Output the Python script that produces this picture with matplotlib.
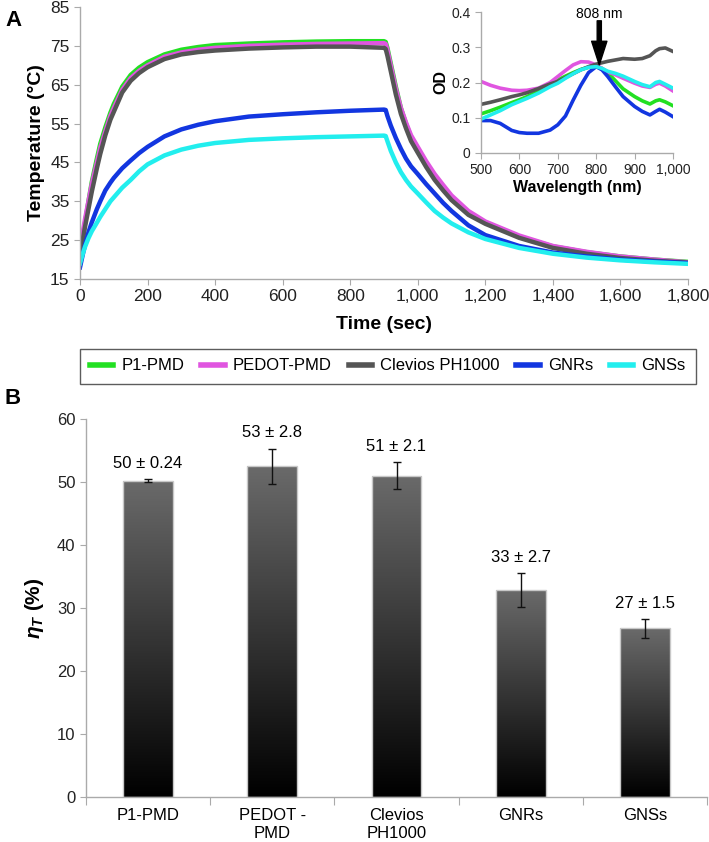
import numpy as np
import matplotlib
matplotlib.use("Agg")
import matplotlib.pyplot as plt
from matplotlib.colors import LinearSegmentedColormap
from matplotlib.lines import Line2D

plt.rcParams['font.family'] = ['Liberation Sans', 'DejaVu Sans']
plt.rcParams['mathtext.fontset'] = 'custom'
plt.rcParams['mathtext.it'] = 'Liberation Sans:italic:bold'
plt.rcParams['mathtext.rm'] = 'Liberation Sans:bold'

# ---------------- data ----------------
names = ['P1-PMD', 'PEDOT-PMD', 'Clevios PH1000', 'GNRs', 'GNSs']
colors = ['#22e022', '#e055e0', '#555555', '#1236e0', '#22eeee']

time_s = [0, 5, 10, 15, 25, 35, 50, 60, 75, 90, 100, 125, 150, 175, 200, 250, 300, 350, 400,
          500, 600, 700, 800, 900, 905, 910, 920, 935, 950, 965, 980, 1000, 1025, 1050, 1075,
          1100, 1150, 1200, 1300, 1400, 1500, 1600, 1700, 1800]
temp_p1 = [21, 23.5, 26.5, 29.5, 35, 40, 46, 49.8, 54, 57.8, 60, 64.5, 67.5, 69.4, 70.8, 72.8, 74.0, 74.7, 75.2,
           75.6, 75.9, 76.1, 76.2, 76.2, 76.0, 74.5, 70.5, 64.5, 59.0, 55.0, 51.5, 48.0, 44.3, 41.0, 38.3,
           35.8, 32.0, 29.5, 25.9, 23.4, 21.9, 20.8, 20.0, 19.4]
temp_pedot = [24, 25.5, 28, 30.5, 35, 39.5, 45, 48.8, 53, 57, 59, 63.7, 66.7, 68.6, 70.0, 72.2, 73.3, 74.0, 74.5,
              75.0, 75.3, 75.5, 75.6, 75.7, 75.5, 74.0, 70.0, 64.0, 59.0, 55.3, 52.0, 49.0, 45.3, 42.0, 39.2,
              36.5, 32.5, 29.8, 26.2, 23.5, 22.0, 20.8, 20.0, 19.3]
temp_clevios = [22, 23.5, 26, 28.5, 33, 37.5, 43.5, 47.2, 52, 56, 58, 63, 66, 68, 69.5, 71.6, 72.8, 73.4, 73.8,
                74.3, 74.6, 74.8, 74.8, 74.5, 74.2, 72.5, 68.5, 62.5, 57.5, 53.8, 50.5, 47.5, 43.8, 40.5, 37.8,
                35.3, 31.5, 29.2, 25.6, 23.0, 21.5, 20.4, 19.7, 19.2]
temp_gnrs = [18, 20, 22, 23.8, 27, 29.6, 33, 35, 37.8, 39.8, 41, 43.5, 45.5, 47.4, 49, 51.7, 53.5, 54.7, 55.6,
             56.8, 57.4, 57.9, 58.3, 58.6, 58.5, 57.0, 54.5, 51.3, 48.5, 46.0, 44.0, 42.0, 39.4, 37.0, 34.6,
             32.5, 28.8, 26.3, 23.5, 21.8, 20.8, 20.0, 19.5, 19.1]
temp_gnss = [19, 20.5, 22, 23.3, 25.5, 27.3, 29.5, 31, 33, 35, 36, 38.5, 40.5, 42.7, 44.5, 46.8, 48.3, 49.3, 50.0,
             50.8, 51.2, 51.5, 51.7, 51.9, 51.8, 50.5, 48.0, 45.0, 42.5, 40.5, 38.8, 37.0, 34.7, 32.5, 30.8,
             29.3, 27.0, 25.3, 23.0, 21.5, 20.5, 19.8, 19.3, 18.9]
temps = [temp_p1, temp_pedot, temp_clevios, temp_gnrs, temp_gnss]

wl_nm = [500, 525, 550, 580, 600, 620, 650, 680, 700, 720, 740, 760, 780, 800, 815, 830, 850, 870,
         900, 920, 940, 955, 965, 980, 1000]
od_p1 = [0.111, 0.120, 0.130, 0.143, 0.151, 0.160, 0.176, 0.195, 0.207, 0.218, 0.228, 0.237, 0.243, 0.245,
         0.240, 0.228, 0.205, 0.182, 0.160, 0.148, 0.139, 0.148, 0.151, 0.145, 0.134]
od_pedot = [0.203, 0.192, 0.184, 0.178, 0.177, 0.178, 0.184, 0.200, 0.217, 0.234, 0.250, 0.259, 0.258, 0.250,
            0.240, 0.230, 0.222, 0.212, 0.198, 0.190, 0.186, 0.195, 0.198, 0.190, 0.176]
od_clevios = [0.138, 0.144, 0.151, 0.160, 0.165, 0.171, 0.183, 0.196, 0.203, 0.214, 0.225, 0.236, 0.245, 0.252,
              0.256, 0.260, 0.264, 0.268, 0.266, 0.268, 0.276, 0.290, 0.296, 0.298, 0.288]
od_gnrs = [0.092, 0.092, 0.084, 0.064, 0.058, 0.056, 0.056, 0.065, 0.080, 0.105, 0.150, 0.192, 0.228, 0.245,
           0.236, 0.217, 0.188, 0.160, 0.132, 0.118, 0.108, 0.118, 0.124, 0.116, 0.103]
od_gnss = [0.096, 0.108, 0.120, 0.137, 0.146, 0.155, 0.170, 0.188, 0.198, 0.212, 0.225, 0.236, 0.243, 0.245,
           0.240, 0.232, 0.226, 0.218, 0.203, 0.194, 0.188, 0.200, 0.203, 0.195, 0.184]
ods = [od_p1, od_pedot, od_clevios, od_gnrs, od_gnss]

bar_labels = ['P1-PMD', 'PEDOT -\nPMD', 'Clevios\nPH1000', 'GNRs', 'GNSs']
eta = [50.2, 52.5, 51.0, 32.9, 26.8]
eta_err = [0.24, 2.8, 2.1, 2.7, 1.5]
eta_text = ['50 ± 0.24', '53 ± 2.8', '51 ± 2.1', '33 ± 2.7', '27 ± 1.5']

W, H = 709, 842
fig = plt.figure(figsize=(W / 100, H / 100), dpi=100)

def frac(l, t, r, b):
    return [l / W, 1 - b / H, (r - l) / W, (b - t) / H]

def style_axes(ax, size):
    for s in ['top', 'right']:
        ax.spines[s].set_visible(False)
    for s in ['left', 'bottom']:
        ax.spines[s].set_color('#aaaaaa')
        ax.spines[s].set_linewidth(1.0)
    ax.tick_params(direction='out', color='#aaaaaa', length=4, labelsize=size, labelcolor='#222222')

# ---------------- panel A ----------------
axA = fig.add_axes(frac(80, 7, 688, 279))
for name, c, T in zip(names, colors, temps):
    axA.plot(time_s, T, color=c, lw=3.2, solid_joinstyle='round')
axA.set_xlim(0, 1800)
axA.set_ylim(15, 85)
axA.set_xticks(range(0, 1801, 200))
axA.set_xticklabels([f'{v:,}' for v in range(0, 1801, 200)])
axA.set_yticks(range(15, 86, 10))
style_axes(axA, 12.5)
axA.set_xlabel('Time (sec)', fontsize=14, fontweight='bold', labelpad=8)
axA.set_ylabel('Temperature (°C)', fontsize=14, fontweight='bold', labelpad=4)

# inset spectra
axI = fig.add_axes(frac(481, 12, 673, 153))
for c, od in zip(colors, ods):
    axI.plot(wl_nm, od, color=c, lw=2.6, solid_joinstyle='round')
axI.set_xlim(500, 1000)
axI.set_ylim(0, 0.4)
axI.set_xticks(range(500, 1001, 100))
axI.set_xticklabels(['500', '600', '700', '800', '900', '1,000'])
axI.set_yticks([0, 0.1, 0.2, 0.3, 0.4])
axI.set_yticklabels(['0', '0.1', '0.2', '0.3', '0.4'])
style_axes(axI, 10)
axI.set_xlabel('Wavelength (nm)', fontsize=11.5, fontweight='bold', labelpad=2)
axI.set_ylabel('OD', fontsize=11.5, fontweight='bold', labelpad=2)
axI.annotate('', xy=(808, 0.250), xytext=(808, 0.375),
             arrowprops=dict(width=3, headwidth=11, headlength=17, facecolor='black',
                             edgecolor='black', shrink=0),
             annotation_clip=False)
axI.text(808, 0.395, '808 nm', ha='center', va='center', fontsize=10)

# legend
handles = [Line2D([], [], color=c, lw=4) for c in colors]
leg = fig.legend(handles, names, loc='center', bbox_to_anchor=(388 / W, 1 - 366 / H), ncol=5,
                 fontsize=12, frameon=True, fancybox=False, handlelength=1.4, handletextpad=0.5,
                 columnspacing=1.0, borderpad=0.6)
leg.get_frame().set_edgecolor('#333333')
leg.get_frame().set_linewidth(1.0)

fig.text(5 / W, 1 - 20 / H, 'A', fontsize=16, fontweight='bold', va='center')
fig.text(5 / W, 1 - 399 / H, 'B', fontsize=16, fontweight='bold', va='center')

# ---------------- panel B ----------------
axB = fig.add_axes(frac(86, 419, 707, 797))
x = np.arange(len(eta))
bars = axB.bar(x, eta, width=0.4, facecolor='none', edgecolor='#c8c8c8', lw=1.0, zorder=3)
cmap = LinearSegmentedColormap.from_list('g', ['#000000', '#6a6a6a'])
grad = np.linspace(0, 1, 256).reshape(-1, 1)
for b in bars:
    x0, w, h = b.get_x(), b.get_width(), b.get_height()
    im = axB.imshow(grad, extent=[x0, x0 + w, 0, h], origin='lower', cmap=cmap,
                    aspect='auto', zorder=2)
    im.set_clip_path(b)
axB.errorbar(x, eta, yerr=eta_err, fmt='none', ecolor='#111111', elinewidth=1.0,
             capsize=3, capthick=1.0, zorder=4)
for xi, v, e, s in zip(x, eta, eta_err, eta_text):
    axB.text(xi, v + e + 1.3, s, ha='center', va='bottom', fontsize=12)
axB.set_xlim(-0.5, len(eta) - 0.5)
axB.set_ylim(0, 60)
axB.set_yticks(range(0, 61, 10))
axB.set_xticks(np.arange(-0.5, len(eta), 1.0))
axB.set_xticklabels([])
axB.set_xticks(x, minor=True)
axB.set_xticklabels(bar_labels, minor=True)
style_axes(axB, 12)
axB.tick_params(axis='x', which='major', length=6)
axB.tick_params(axis='x', which='minor', length=0, pad=8, labelsize=12)
axB.set_ylabel(r'$η_T$ (%)', fontsize=15, fontweight='bold', labelpad=8)

fig.savefig('out.png', dpi=100)
